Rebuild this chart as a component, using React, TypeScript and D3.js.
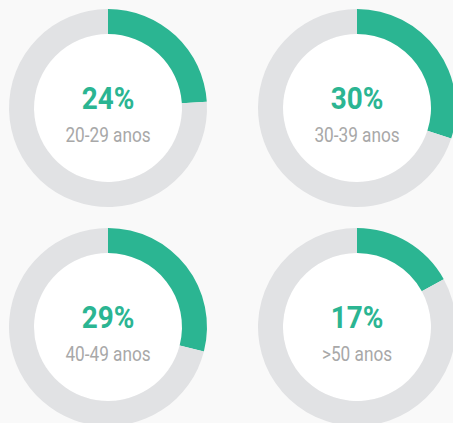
import React from "react";
import * as d3 from "d3";

const categories = ["20-29 anos", "30-39 anos", "40-49 anos", ">50 anos"];
const values = [24, 30, 29, 17];
const total = 100;

const W = 453;
const H = 423;
const centersX = [108, 357];
const centersY = [108, 327];
const outerR = 99;
const innerR = 74;

export default function App() {
  const pie = d3
    .pie<number>()
    .sort(null)
    .value((d) => d);
  const arc = d3.arc<d3.PieArcDatum<number>>().innerRadius(innerR).outerRadius(outerR);

  return (
    <svg
      width={W}
      height={H}
      style={{ position: "absolute", left: 0, top: 0, display: "block" }}
    >
      <rect x={0} y={0} width={W} height={H} fill="#f9f9f9" />
      {values.map((v, i) => {
        const cx = centersX[i % 2];
        const cy = centersY[Math.floor(i / 2)];
        const arcs = pie([v, total - v]);
        return (
          <g key={categories[i]} transform={`translate(${cx},${cy})`}>
            <circle r={innerR} fill="#ffffff" />
            {arcs.map((a, j) => (
              <path key={j} d={arc(a) || ""} fill={j === 0 ? "#2bb592" : "#e1e2e4"} />
            ))}
            <g transform="translate(0,1) scale(0.9,1)">
              <text
                textAnchor="middle"
                fontFamily="Roboto, sans-serif"
                fontWeight={700}
                fontSize={31}
                fill="#2bb592"
              >
                {`${v}%`}
              </text>
            </g>
            <g transform="translate(0,34) scale(0.82,1)">
              <text
                textAnchor="middle"
                fontFamily="Roboto, sans-serif"
                fontSize={21}
                fill="#a8a8a8"
              >
                {categories[i]}
              </text>
            </g>
          </g>
        );
      })}
    </svg>
  );
}
